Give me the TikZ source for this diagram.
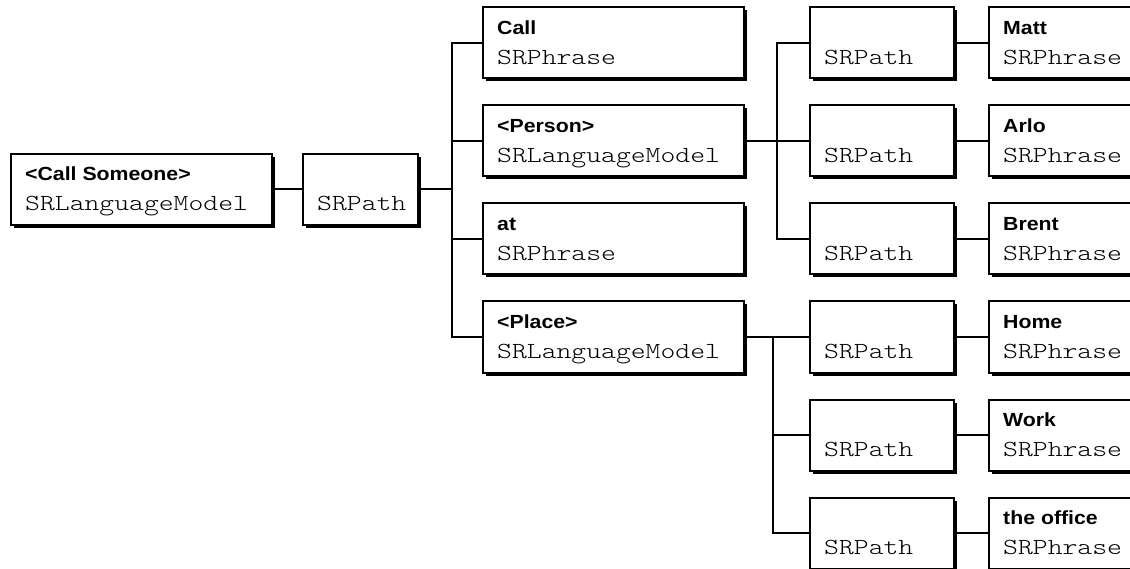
\documentclass[tikz,border=0pt]{standalone}
\usepackage{fontspec}
\newfontfamily\boldf{Liberation Sans}[FakeStretch=1.12]
\newfontfamily\monof{lmmonolt10-regular.otf}[FakeStretch=1.23]
\usetikzlibrary{shadows}
\tikzset{
  bx/.style={draw, line width=2pt, fill=white, rectangle, anchor=north west,
    minimum height=71pt, inner sep=0pt,
    drop shadow={shadow xshift=3pt, shadow yshift=-3pt, fill=black, opacity=1}},
  bt/.style={anchor=base west, inner sep=0pt, font=\boldf\bfseries\fontsize{19}{19}\selectfont},
  mt/.style={anchor=base west, inner sep=0pt, font=\monof\fontsize{23}{23}\selectfont},
  ln/.style={line width=2pt, line join=miter}
}
\newcommand\twobox[6]{%
  \node[bx, minimum width=#4pt] (#1) at (#2,#3) {};
  \node[bt] (#1-b) at ([xshift=15pt,yshift=-28pt]#1.north west) {#5};
  \node[mt] (#1-m) at ([xshift=15pt,yshift=-58pt]#1.north west) {#6};
}
\newcommand\pathbox[4]{%
  \node[bx, minimum width=#4pt] (#1) at (#2,#3) {};
  \node[mt] (#1-m) at ([xshift=15pt,yshift=-58pt]#1.north west) {SRPath};
}
\begin{document}
\begin{tikzpicture}[x=1pt,y=-1pt]
\useasboundingbox (0,0) rectangle (1130,569);
\clip (0,0) rectangle (1130,569);
% column A and B
\twobox{cs}{10}{153}{261}{<Call Someone>}{SRLanguageModel}
\pathbox{p0}{302}{153}{115}
% column C
\twobox{c1}{482}{6.5}{261}{Call}{SRPhrase}
\twobox{c2}{482}{104.5}{261}{<Person>}{SRLanguageModel}
\twobox{c3}{482}{202.5}{261}{at}{SRPhrase}
\twobox{c4}{482}{300.5}{261}{<Place>}{SRLanguageModel}
% column D
\pathbox{d1}{809}{6.5}{144}
\pathbox{d2}{809}{104.5}{144}
\pathbox{d3}{809}{202.5}{144}
\pathbox{d4}{809}{300.5}{144}
\pathbox{d5}{809}{398.5}{144}
\pathbox{d6}{809}{496.5}{144}
% column E
\twobox{e1}{988}{6.5}{261}{Matt}{SRPhrase}
\twobox{e2}{988}{104.5}{261}{Arlo}{SRPhrase}
\twobox{e3}{988}{202.5}{261}{Brent}{SRPhrase}
\twobox{e4}{988}{300.5}{261}{Home}{SRPhrase}
\twobox{e5}{988}{398.5}{261}{Work}{SRPhrase}
\twobox{e6}{988}{496.5}{261}{the office}{SRPhrase}
% junction columns
\coordinate (j0) at (452,0);
\coordinate (j1) at (777,0);
\coordinate (j2) at (773,0);
% connectors
\draw[ln] (cs.east) -- (p0.west);
\draw[ln] (p0.east) -- (j0 |- p0.east);
\draw[ln] (c1.west) -- (j0 |- c1.west) -- (j0 |- c4.west) -- (c4.west);
\draw[ln] (j0 |- c2.west) -- (c2.west);
\draw[ln] (j0 |- c3.west) -- (c3.west);
\draw[ln] (c2.east) -- (d2.west);
\draw[ln] (d1.west) -- (j1 |- d1.west) -- (j1 |- d3.west) -- (d3.west);
\draw[ln] (c4.east) -- (d4.west);
\draw[ln] (j2 |- d4.west) -- (j2 |- d6.west) -- (d6.west);
\draw[ln] (j2 |- d5.west) -- (d5.west);
\foreach \k in {1,...,6} { \draw[ln] (d\k.east) -- (e\k.west); }
\end{tikzpicture}
\end{document}
